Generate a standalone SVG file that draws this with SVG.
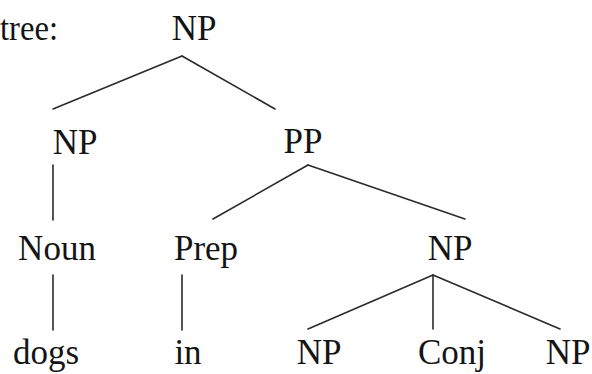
<svg xmlns="http://www.w3.org/2000/svg" width="592" height="374" viewBox="0 0 592 374" font-family="Liberation Serif, Times New Roman, Times, DejaVu Serif, Noto Serif, serif">
<style>
text{font-family:"Liberation Serif","Times New Roman",Times,"DejaVu Serif","Noto Serif",serif;font-size:35px;fill:#141414;text-anchor:middle}
.e line{stroke:#2a2a2a;stroke-width:1.6;stroke-linecap:round}
</style>
<rect width="592" height="374" fill="#fff"/>
<text x="0" y="40" style="text-anchor:start" textLength="58" lengthAdjust="spacingAndGlyphs">tree:</text>
<g class="e" id="connectors">
<line x1="182" y1="56" x2="53" y2="109"/>
<line x1="182" y1="56" x2="275" y2="109"/>
<line x1="53" y1="165" x2="53" y2="220"/>
<line x1="308" y1="165" x2="213" y2="219"/>
<line x1="308" y1="165" x2="465" y2="219"/>
<line x1="53" y1="275" x2="53" y2="330"/>
<line x1="182" y1="275" x2="182" y2="330"/>
<line x1="433" y1="275" x2="308" y2="329"/>
<line x1="433" y1="275" x2="433" y2="329"/>
<line x1="433" y1="275" x2="560" y2="329"/>
</g>
<g id="np-root"><text x="194" y="40">NP</text></g>
<g id="np-left"><text x="75" y="154">NP</text></g>
<g id="pp"><text x="303" y="153">PP</text></g>
<g id="noun"><text x="57" y="260">Noun</text></g>
<g id="prep"><text x="206" y="260">Prep</text></g>
<g id="np-obj"><text x="450" y="260">NP</text></g>
<g id="dogs"><text x="46" y="364">dogs</text></g>
<g id="in"><text x="188" y="364">in</text></g>
<g id="np-a"><text x="319" y="364">NP</text></g>
<g id="conj"><text x="452" y="364">Conj</text></g>
<g id="np-b"><text x="568" y="364">NP</text></g>
</svg>
